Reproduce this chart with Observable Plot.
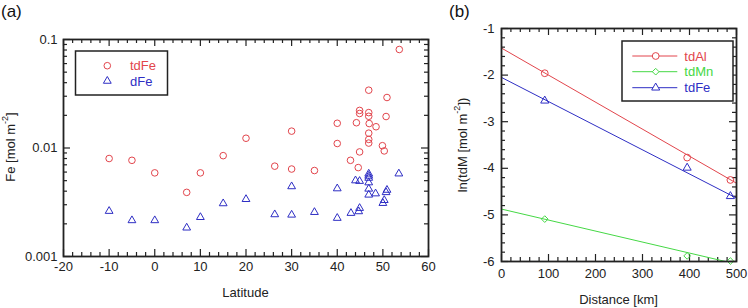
<!DOCTYPE html>
<html><head><meta charset="utf-8">
<script src="https://cdn.jsdelivr.net/npm/d3@7"></script>
<script src="https://cdn.jsdelivr.net/npm/@observablehq/plot@0.6"></script>
<style>
body{margin:0;background:#fff;}
#wrap{position:relative;width:748px;height:308px;overflow:hidden;font-family:"Liberation Sans",Arial,sans-serif;}
#wrap svg{position:absolute;top:0;}
</style></head><body><div id="wrap"></div>
<script>
// ---------- Panel (a) data ----------
const latTdFe = [-10, -5, 0, 7, 10, 15, 20, 26.3, 30, 30, 35, 40, 40, 42.9, 44.2, 44.6, 44.9, 44.9, 44.9, 46.9, 46.9, 46.9, 47, 46.9, 46.9, 46.9, 48.5, 49.9, 50.3, 50.7, 50.9, 53.6];
const valTdFe = [0.0080, 0.0077, 0.0059, 0.0039, 0.0059, 0.0085, 0.0123, 0.0068, 0.0143, 0.0064, 0.0062, 0.0169, 0.0110, 0.0077, 0.0171, 0.0066, 0.0222, 0.0208, 0.0092, 0.0341, 0.0212, 0.0196, 0.0168, 0.0137, 0.0120, 0.0111, 0.0157, 0.0105, 0.0094, 0.0195, 0.0292, 0.0809];
const latDFe = [-10, -5, 0, 7, 10, 15, 20, 26.3, 30, 30, 35, 40, 40, 43, 44, 44.9, 44.7, 44.9, 46.9, 46.9, 46.9, 46.9, 46.9, 46.9, 48.4, 50, 50.3, 50.7, 50.9, 53.5];
const valDFe = [0.00262, 0.00215, 0.00215, 0.00184, 0.0023, 0.00308, 0.00337, 0.00244, 0.00442, 0.00242, 0.00256, 0.00423, 0.00226, 0.00251, 0.00501, 0.00495, 0.0026, 0.00279, 0.00578, 0.00553, 0.00529, 0.0048, 0.0042, 0.0037, 0.0038, 0.0031, 0.0033, 0.0039, 0.0041, 0.0058];
const aXTicks = [-20, -10, 0, 10, 20, 30, 40, 50, 60];
const aXTickLabels = ["-20", "-10", "0", "10", "20", "30", "40", "50", "60"];
const aYTicks = [0.001, 0.01, 0.1];
const aYTickLabels = ["0.001", "0.01", "0.1"];
const aSeries = ["tdFe", "dFe"];

// ---------- Panel (b) data ----------
const distance = [92, 395, 487];
const lnTdAl = [-1.96, -3.77, -4.25];
const lnTdMn = [-5.09, -5.88, -5.99];
const lnTdFe = [-2.55, -3.99, -4.60];
const fitDistance = [0, 500];
const fitTdAl = [-1.42, -4.32];
const fitTdMn = [-4.875, -6.055];
const fitTdFe = [-2.05, -4.64];
const bXTicks = [0, 100, 200, 300, 400, 500];
const bXTickLabels = ["0", "100", "200", "300", "400", "500"];
const bYTicks = [-1, -2, -3, -4, -5, -6];
const bYTickLabels = ["-1", "-2", "-3", "-4", "-5", "-6"];
const bSeries = ["tdAl", "tdMn", "tdFe"];

const RED = "#e2454c", BLUE = "#2e2ec4", GREEN = "#45d845";
const FRAME = "#222";
const FONT = "'Liberation Sans', Arial, sans-serif";
const wrap = d3.select("#wrap");
const lab = (ticks, labels) => d => labels[ticks.indexOf(d)];

function tickRules(xMajor, xMinor, yMajor, yMinor, pw, ph, maj, min) {
  const s = {stroke: FRAME, strokeWidth: 1.2};
  return [
    Plot.ruleX(xMajor, {...s, insetTop: ph - maj}),
    Plot.ruleX(xMajor, {...s, insetBottom: ph - maj}),
    Plot.ruleX(xMinor, {...s, insetTop: ph - min}),
    Plot.ruleX(xMinor, {...s, insetBottom: ph - min}),
    Plot.ruleY(yMajor, {...s, insetRight: pw - maj}),
    Plot.ruleY(yMajor, {...s, insetLeft: pw - maj}),
    Plot.ruleY(yMinor, {...s, insetRight: pw - min}),
    Plot.ruleY(yMinor, {...s, insetLeft: pw - min})
  ];
}

// ================= Panel (a) =================
{
  const W = 445, H = 308, mL = 63, mR = W - 428, mT = 39, mB = 308 - 256;
  const pw = W - mL - mR, ph = H - mT - mB;
  const xMinor = d3.range(-20, 61, 2).filter(v => v % 10 !== 0);
  const yMinor = [];
  [0.001, 0.01].forEach(b => { for (let m = 2; m <= 9; m++) yMinor.push(m * b); });
  const red = latTdFe.map((x, i) => ({x, y: valTdFe[i]}));
  const blue = latDFe.map((x, i) => ({x, y: valDFe[i]}));
  const svg = Plot.plot({
    width: W, height: H, marginLeft: mL, marginRight: mR, marginTop: mT, marginBottom: mB,
    style: {fontFamily: FONT, fontSize: "13px", color: "#222", background: "transparent", overflow: "visible"},
    x: {domain: [-20, 60]},
    y: {type: "log", domain: [0.001, 0.1]},
    marks: [
      ...tickRules(aXTicks, xMinor, aYTicks, yMinor, pw, ph, 7, 4),
      Plot.axisX(aXTicks, {tickSize: 0, tickPadding: 5, label: null, fontSize: 13, tickFormat: lab(aXTicks, aXTickLabels)}),
      Plot.axisY(aYTicks, {tickSize: 0, tickPadding: 6, label: null, fontSize: 13, tickFormat: lab(aYTicks, aYTickLabels)}),
      Plot.dot(red, {x: "x", y: "y", r: 3.3, stroke: RED, strokeWidth: 1, fill: "none"}),
      Plot.dot(blue, {x: "x", y: "y", r: 2.9, symbol: "triangle", stroke: BLUE, strokeWidth: 1, fill: "none"}),
      Plot.frame({stroke: FRAME, strokeWidth: 1.8})
    ]
  });
  d3.select(svg).style("left", "0px");
  wrap.node().appendChild(svg);
  const g = d3.select(svg).append("g").attr("font-family", FONT).attr("text-anchor", "start");
  g.append("text").attr("x", 1).attr("y", 11).attr("dominant-baseline", "central").attr("font-size", 17).attr("fill", "#111").text("(a)");
  g.append("text").attr("x", (63 + 428) / 2).attr("y", 292).attr("text-anchor", "middle").attr("dominant-baseline", "central").attr("font-size", 13).attr("fill", "#222").text("Latitude");
  const yl = g.append("text").attr("transform", "translate(10,147) rotate(-90)").attr("text-anchor", "middle").attr("dominant-baseline", "central").attr("font-size", 13).attr("fill", "#222");
  yl.append("tspan").text("Fe [mol m");
  yl.append("tspan").attr("font-size", 9).attr("dy", -5).text("-2");
  yl.append("tspan").attr("dy", 5).text("]");
  // legend
  const lg = g.append("g");
  lg.append("rect").attr("x", 75.5).attr("y", 51).attr("width", 92).attr("height", 44).attr("fill", "#fff").attr("stroke", "#222").attr("stroke-width", 1.5);
  lg.append("circle").attr("cx", 107.3).attr("cy", 65.7).attr("r", 3.3).attr("fill", "none").attr("stroke", RED);
  lg.append("path").attr("d", d3.symbol(d3.symbolTriangle, 2.9 * 2.9 * Math.PI)()).attr("transform", "translate(107.3,81)").attr("fill", "none").attr("stroke", BLUE);
  lg.append("text").attr("x", 130).attr("y", 65.7).attr("text-anchor", "start").attr("dominant-baseline", "central").attr("font-size", 13).attr("fill", RED).text(aSeries[0]);
  lg.append("text").attr("x", 130).attr("y", 81).attr("text-anchor", "start").attr("dominant-baseline", "central").attr("font-size", 13).attr("fill", BLUE).text(aSeries[1]);
}

// ================= Panel (b) =================
{
  const left = 445;
  const W = 748 - left, H = 308, mL = 501 - left, mR = 748 - 736, mT = 28, mB = 47;
  const pw = W - mL - mR, ph = H - mT - mB;
  const xMinor = d3.range(0, 501, 20).filter(v => v % 100 !== 0);
  const yMinor = d3.range(-60, -9, 2).map(v => v / 10).filter(v => !Number.isInteger(v));
  const mk = (ys) => distance.map((x, i) => ({x, y: ys[i]}));
  const fk = (ys) => fitDistance.map((x, i) => ({x, y: ys[i]}));
  const svg = Plot.plot({
    width: W, height: H, marginLeft: mL, marginRight: mR, marginTop: mT, marginBottom: mB,
    style: {fontFamily: FONT, fontSize: "13px", color: "#222", background: "transparent", overflow: "visible"},
    x: {domain: [0, 500]},
    y: {domain: [-6, -1]},
    marks: [
      ...tickRules(bXTicks, xMinor, bYTicks, yMinor, pw, ph, 7, 4),
      Plot.axisX(bXTicks, {tickSize: 0, tickPadding: 7, label: null, fontSize: 13, tickFormat: lab(bXTicks, bXTickLabels)}),
      Plot.axisY(bYTicks, {tickSize: 0, tickPadding: 7, label: null, fontSize: 13, tickFormat: lab(bYTicks, bYTickLabels)}),
      Plot.line(fk(fitTdAl), {x: "x", y: "y", stroke: RED, strokeWidth: 1, clip: true}),
      Plot.line(fk(fitTdMn), {x: "x", y: "y", stroke: GREEN, strokeWidth: 1, clip: true}),
      Plot.line(fk(fitTdFe), {x: "x", y: "y", stroke: BLUE, strokeWidth: 1, clip: true}),
      Plot.dot(mk(lnTdAl), {x: "x", y: "y", r: 3.4, stroke: RED, strokeWidth: 1, fill: "none"}),
      Plot.dot(mk(lnTdMn), {x: "x", y: "y", r: 3, symbol: "diamond2", stroke: GREEN, strokeWidth: 1, fill: "none"}),
      Plot.dot(mk(lnTdFe), {x: "x", y: "y", r: 3, symbol: "triangle", stroke: BLUE, strokeWidth: 1, fill: "none"}),
      Plot.frame({stroke: FRAME, strokeWidth: 1.8})
    ]
  });
  d3.select(svg).style("left", left + "px");
  wrap.node().appendChild(svg);
  const g = d3.select(svg).append("g").attr("font-family", FONT).attr("text-anchor", "start");
  g.append("text").attr("x", 449 - left).attr("y", 11).attr("text-anchor", "start").attr("dominant-baseline", "central").attr("font-size", 17).attr("fill", "#111").text("(b)");
  g.append("text").attr("x", (501 + 736) / 2 - left).attr("y", 299).attr("text-anchor", "middle").attr("dominant-baseline", "central").attr("font-size", 13).attr("fill", "#222").text("Distance [km]");
  const yl = g.append("text").attr("transform", `translate(${462 - left},145) rotate(-90)`).attr("text-anchor", "middle").attr("dominant-baseline", "central").attr("font-size", 13).attr("fill", "#222");
  yl.append("tspan").text("ln(tdM [mol m");
  yl.append("tspan").attr("font-size", 9).attr("dy", -5).text("-2");
  yl.append("tspan").attr("dy", 5).text("])");
  // legend
  const lg = g.append("g").attr("transform", `translate(${-left},0)`);
  lg.append("rect").attr("x", 622).attr("y", 41).attr("width", 111).attr("height", 60).attr("fill", "#fff").attr("stroke", "#222").attr("stroke-width", 1.5);
  const rows = [
    {name: bSeries[0], c: RED, y: 56, sym: d3.symbolCircle, r: 3.4},
    {name: bSeries[1], c: GREEN, y: 71.7, sym: d3.symbolDiamond2, r: 3},
    {name: bSeries[2], c: BLUE, y: 87.7, sym: d3.symbolTriangle, r: 3}
  ];
  rows.forEach(d => {
    lg.append("line").attr("x1", 632.3).attr("x2", 677.3).attr("y1", d.y).attr("y2", d.y).attr("stroke", d.c);
    lg.append("path").attr("d", d3.symbol(d.sym, d.r * d.r * Math.PI)()).attr("transform", `translate(655.7,${d.y})`).attr("fill", "#fff").attr("stroke", d.c);
    lg.append("text").attr("x", 684.3).attr("y", d.y).attr("text-anchor", "start").attr("dominant-baseline", "central").attr("font-size", 13).attr("fill", d.c).text(d.name);
  });
}
</script></body></html>
